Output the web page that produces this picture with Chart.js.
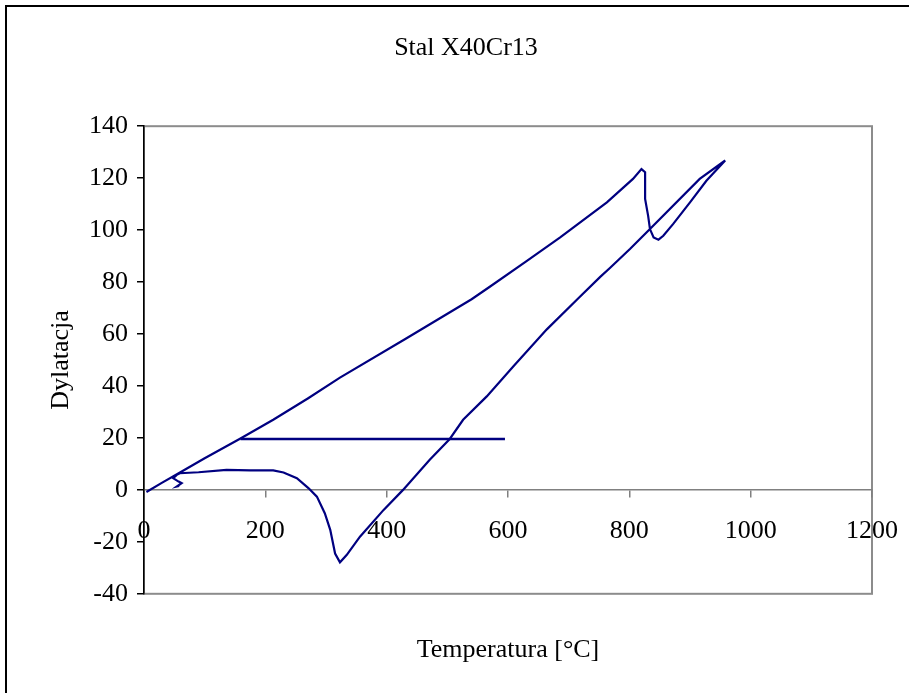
<!DOCTYPE html>
<html lang="pl">
<head>
    <meta charset="UTF-8">
    <title>Stal X40Cr13</title>
    <script src="https://cdn.jsdelivr.net/npm/chart.js@4"></script>
    <style>
        html, body { margin: 0; padding: 0; background: #fff; overflow: hidden; }
        body { width: 909px; height: 693px; position: relative; }
        .ramka { position: absolute; left: 5px; top: 5px; width: 1000px; height: 1000px; border: 2px solid #000; }
        #wykres { position: absolute; left: 0; top: 0; }
    </style>
</head>
<body>
    <div class="ramka"></div>
    <canvas id="wykres" width="909" height="693"></canvas>
    <script>
        // Nagrzewanie (temperatura, dylatacja)
        const grzanieT = [4, 30, 60, 100, 159, 213, 270, 323, 430, 540, 570, 630, 686, 763, 806, 820,
                          826, 826, 831, 834, 840, 848, 856, 872, 900, 927, 958];
        const grzanieD = [-0.8, 2.8, 6.8, 12.2, 19.8, 27, 35.2, 43.2, 58, 73.4, 78.2, 88, 97.2, 110.7, 119.7, 123.5,
                          122.3, 112, 105.5, 100.4, 97.2, 96.3, 97.8, 102.3, 110.7, 119, 126.8];

        // Chlodzenie
        const chlodzenieT = [958, 916, 834, 801, 768, 752, 716, 664, 609, 565, 526, 504, 471, 427, 395, 356,
                             334, 323, 315, 307, 298, 285, 271, 252, 230, 213, 175, 136, 90, 59, 54, 48, 57, 62, 54, 58];
        const chlodzenieD = [126.8, 119.7, 100.4, 92.7, 85.4, 82, 73.8, 61.8, 47.6, 36, 27, 19.6, 11.6, 0, -7.7, -18,
                             -25.1, -27.9, -24.5, -15.4, -9, -2.6, 0.7, 4.5, 6.7, 7.5, 7.5, 7.7, 6.8, 6.4, 5.8, 4.5, 3.2, 2.6, 1.3, 1.5];

        // Poziomy odcinek
        const odcinekT = [159, 595];
        const odcinekD = [19.6, 19.6];

        const osX = [0, 1200, 200];
        const osY = [-40, 140, 20];

        const punkty = (t, d) => t.map((v, i) => ({ x: v, y: d[i] }));
        const sciezka = punkty(grzanieT, grzanieD).concat(punkty(chlodzenieT, chlodzenieD));

        Chart.defaults.font.family = '"Liberation Serif", "Times New Roman", serif';
        Chart.defaults.font.size = 26;
        Chart.defaults.color = '#000';

        // szara ramka obszaru wykresu
        const ramkaWykresu = {
            id: 'ramkaWykresu',
            beforeDraw(chart) {
                const a = chart.chartArea, ctx = chart.ctx;
                ctx.save();
                ctx.strokeStyle = '#8c8c8c';
                ctx.lineWidth = 2;
                ctx.strokeRect(a.left, a.top, a.right - a.left, a.bottom - a.top);
                ctx.restore();
            }
        };

        new Chart(document.getElementById('wykres'), {
            type: 'scatter',
            data: {
                datasets: [{
                    data: sciezka,
                    showLine: true,
                    borderColor: '#000080',
                    borderWidth: 2.2,
                    pointRadius: 0,
                    tension: 0
                }, {
                    data: punkty(odcinekT, odcinekD),
                    showLine: true,
                    borderColor: '#000080',
                    borderWidth: 2.5,
                    pointRadius: 0
                }]
            },
            options: {
                responsive: false,
                animation: false,
                devicePixelRatio: 1,
                layout: { padding: { left: 23, right: 0, top: 0, bottom: 0 } },
                plugins: {
                    legend: { display: false },
                    tooltip: { enabled: false },
                    title: {
                        display: true,
                        text: 'Stal X40Cr13',
                        font: { size: 26, weight: 'normal' },
                        padding: { top: 33, bottom: 62 }
                    }
                },
                scales: {
                    x: {
                        type: 'linear',
                        position: { y: 0 },
                        min: osX[0], max: osX[1],
                        ticks: { stepSize: osX[2], autoSkip: false, maxRotation: 0, padding: 19,
                                 callback: v => String(v) },
                        grid: { drawOnChartArea: false, tickLength: 7, color: '#808080', lineWidth: 1.5 },
                        border: { color: '#808080', width: 1.5 },
                        afterFit(scale) { scale.paddingLeft = 0; scale.paddingRight = 0; }
                    },
                    xDol: {
                        type: 'linear',
                        axis: 'x',
                        position: 'bottom',
                        min: osX[0], max: osX[1],
                        ticks: { display: false },
                        grid: { display: false, drawTicks: false },
                        border: { display: false },
                        title: { display: true, text: 'Temperatura [°C]', padding: { top: 41, bottom: 27 } }
                    },
                    y: {
                        min: osY[0], max: osY[1],
                        ticks: { stepSize: osY[2], padding: 9 },
                        grid: { drawOnChartArea: false, tickLength: 7, color: '#000', lineWidth: 1.5 },
                        border: { color: '#000', width: 1.5 },
                        title: { display: true, text: 'Dylatacja', padding: { top: 23, bottom: 0 } },
                        afterFit(scale) { scale.width = 121; }
                    },
                    yPrawa: {
                        type: 'linear',
                        axis: 'y',
                        position: 'right',
                        min: osY[0], max: osY[1],
                        ticks: { display: false },
                        grid: { display: false, drawTicks: false },
                        border: { display: false },
                        afterFit(scale) { scale.width = 37; }
                    }
                }
            },
            plugins: [ramkaWykresu]
        });
    </script>
</body>
</html>
